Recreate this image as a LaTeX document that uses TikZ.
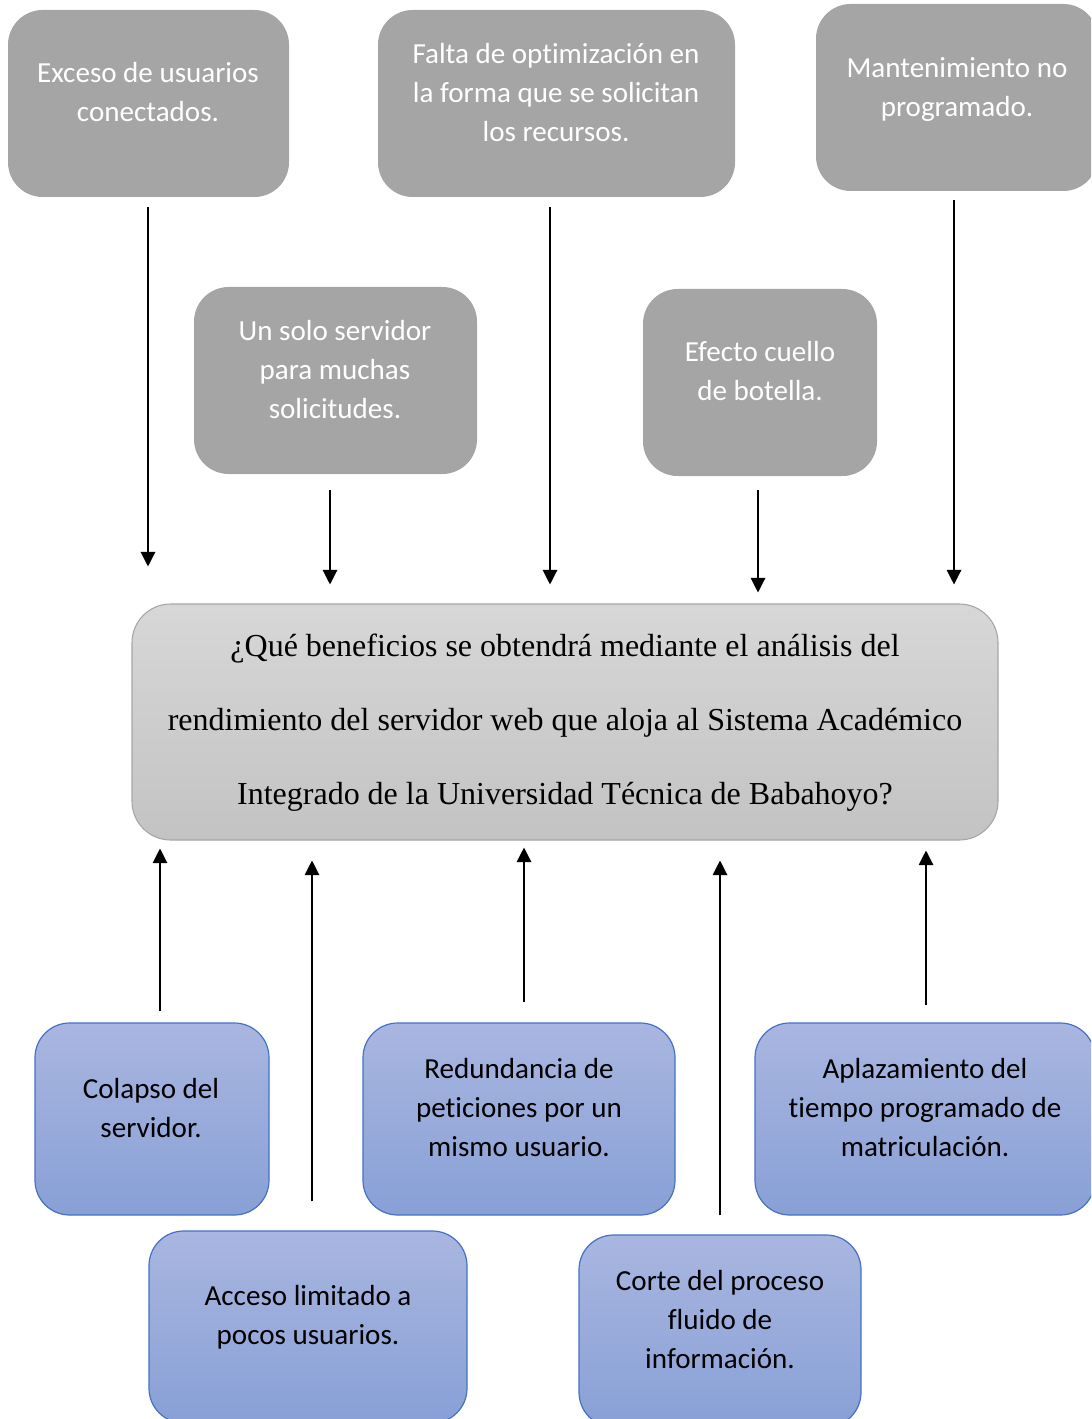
\documentclass[tikz,border=0pt]{standalone}
\usepackage{fontspec}
\setmainfont{Liberation Serif}
\newfontfamily\calib[Ligatures={NoCommon,NoContextual}]{Carlito}
\usetikzlibrary{arrows.meta,fit}
\definecolor{boxgray}{HTML}{A5A5A5}
\definecolor{qtop}{HTML}{D7D7D7}
\definecolor{qbot}{HTML}{C3C3C3}
\definecolor{qborder}{HTML}{A6A6A6}
\definecolor{btop}{HTML}{A9B6E0}
\definecolor{bbot}{HTML}{88A0D6}
\definecolor{bborder}{HTML}{4472C4}
\tikzset{
  graybox/.style={rectangle, rounded corners=26pt, fill=boxgray, draw=none, inner sep=0pt},
  bluebox/.style={rectangle, rounded corners=26pt, top color=btop, bottom color=bbot, draw=bborder, line width=0.9pt, inner sep=0pt},
  qbox/.style={rectangle, rounded corners=29pt, top color=qtop, bottom color=qbot, draw=qborder, line width=0.8pt, inner sep=0pt},
  celltxt/.style={font=\calib\fontsize{21.8}{29.25}\selectfont, align=center, inner sep=0pt},
  whitetxt/.style={celltxt, text=white},
  qtxt/.style={font=\fontsize{24}{55.5}\selectfont, align=center, inner sep=0pt},
  arr/.style={-{Triangle[width=11pt,length=11pt]}, line width=0.9pt}
}
\begin{document}
\begin{tikzpicture}[x=0.75pt,y=-0.75pt]
\useasboundingbox (0,0) rectangle (1091,1419);
\clip (0,0) rectangle (1091,1419);
% top gray boxes
\node[graybox, fit={(8,10) (289,197)}] (A) {};
\node[graybox, fit={(378,10) (735,197)}] (B) {};
\node[graybox, fit={(816,4) (1098,191)}] (C) {};
\node[graybox, fit={(194,287) (477,474)}] (D) {};
\node[graybox, fit={(643,289) (877,476)}] (E) {};
\node[whitetxt] (At) at (148,92.5) {Exceso de usuarios\\conectados.};
\node[whitetxt] (Bt) at (556,93) {Falta de optimización en\\la forma que se solicitan\\los recursos.};
\node[whitetxt] (Ct) at (957,90) {Mantenimiento no\\programado.};
\node[whitetxt] (Dt) at (335,370) {Un solo servidor\\para muchas\\solicitudes.};
\node[whitetxt] (Et) at (760,371.5) {Efecto cuello\\de botella.};
% central question
\node[qbox, fit={(132,604) (998,840)}] (Q) {};
\node[qtxt] (Qt) at (565,723) {¿Qué beneficios se obtendrá mediante el análisis del\\rendimiento del servidor web que aloja al Sistema Académico\\Integrado de la Universidad Técnica de Babahoyo?};
% bottom blue boxes
\node[bluebox, fit={(35,1023) (269,1215)}] (F) {};
\node[bluebox, fit={(363,1023) (675,1215)}] (G) {};
\node[bluebox, fit={(755,1023) (1095,1215)}] (H) {};
\node[bluebox, fit={(149,1231) (467,1423)}] (I) {};
\node[bluebox, fit={(579,1235) (861,1427)}] (J) {};
\node[celltxt] (Ft) at (151,1108.5) {Colapso del\\servidor.};
\node[celltxt] (Gt) at (519,1108) {Redundancia de\\peticiones por un\\mismo usuario.};
\node[celltxt] (Ht) at (925,1108) {Aplazamiento del\\tiempo programado de\\matriculación.};
\node[celltxt] (It) at (308,1317) {Acceso limitado a\\pocos usuarios.};
\node[celltxt] (Jt) at (720,1320) {Corte del proceso\\fluido de\\información.};
% down arrows
\draw[arr, shorten <=7.5pt, shorten >=27.75pt] ([xshift=-0.375pt]A.south) -- ([xshift=-0.375pt]A.south |- Q.north);
\draw[arr, shorten <=12pt, shorten >=14.25pt] ([xshift=-4.125pt]D.south) -- ([xshift=-4.125pt]D.south |- Q.north);
\draw[arr, shorten <=7.5pt, shorten >=14.25pt] ([xshift=-4.875pt]B.south) -- ([xshift=-4.875pt]B.south |- Q.north);
\draw[arr, shorten <=10.5pt, shorten >=8.25pt] ([xshift=-1.5pt]E.south) -- ([xshift=-1.5pt]E.south |- Q.north);
\draw[arr, shorten <=6.75pt, shorten >=14.25pt] ([xshift=-2.25pt]C.south) -- ([xshift=-2.25pt]C.south |- Q.north);
% up arrows
\draw[arr, shorten <=8.25pt, shorten >=6pt] ([xshift=6pt]F.north) -- ([xshift=6pt]F.north |- Q.south);
\draw[arr, shorten <=21.75pt, shorten >=15pt] ([xshift=3pt]I.north) -- ([xshift=3pt]I.north |- Q.south);
\draw[arr, shorten <=15pt, shorten >=5.25pt] ([xshift=3.75pt]G.north) -- ([xshift=3.75pt]G.north |- Q.south);
\draw[arr, shorten <=14.25pt, shorten >=15pt] (J.north) -- (J.north |- Q.south);
\draw[arr, shorten <=12.75pt, shorten >=7.5pt] ([xshift=0.75pt]H.north) -- ([xshift=0.75pt]H.north |- Q.south);
\end{tikzpicture}
\end{document}
